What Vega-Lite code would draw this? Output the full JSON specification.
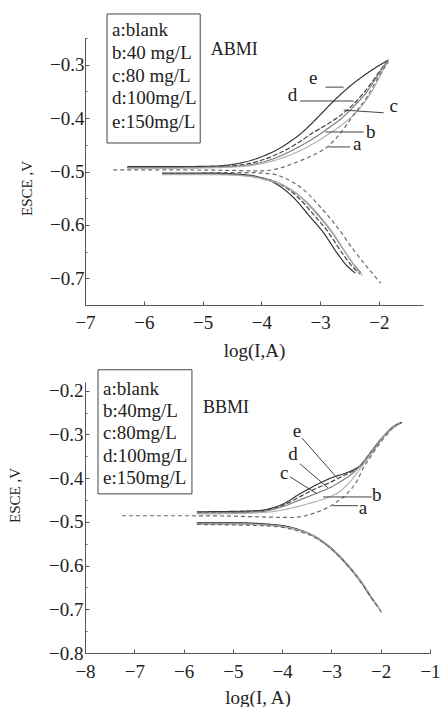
{
  "$schema": "https://vega.github.io/schema/vega-lite/v6.json",
  "padding": {"left": 7, "top": 13, "right": 0, "bottom": 0},
  "background": "white",
  "config": {
    "view": {"stroke": null},
    "font": "Liberation Serif",
    "axis": {
      "domainColor": "#555",
      "tickColor": "#555",
      "labelColor": "#222",
      "titleColor": "#222",
      "labelFont": "Liberation Serif",
      "titleFont": "Liberation Serif",
      "labelFontSize": 19,
      "titleFontSize": 19,
      "titleFontWeight": "normal",
      "labelFlush": false,
      "grid": false
    },
    "text": {"font": "Liberation Serif", "color": "#222"},
    "line": {"interpolate": "monotone"}
  },
  "vconcat": [
    {
      "width": 338,
      "height": 267,
      "encoding": {
        "x": {
          "field": "x", "type": "quantitative",
          "scale": {"domain": [-7, -1.25], "nice": false, "zero": false},
          "axis": {
            "title": "log(I,A)",
            "values": [-7, -6.5, -6, -5.5, -5, -4.5, -4, -3.5, -3, -2.5, -2, -1.5],
            "format": "d",
            "labelExpr": "datum.value % 1 === 0 ? datum.label : ''",
            "tickSize": {"condition": {"test": "datum.value % 1 !== 0", "value": -2}, "value": -4},
            "labelPadding": 12,
            "titlePadding": 9
          }
        },
        "y": {
          "field": "y", "type": "quantitative",
          "scale": {"domain": [-0.75, -0.25], "nice": false, "zero": false},
          "axis": {
            "title": "ESCE ,V",
            "titleFontSize": 15,
            "titleY": 150,
            "values": [-0.75, -0.7, -0.65, -0.6, -0.55, -0.5, -0.45, -0.4, -0.35, -0.3, -0.25],
            "format": ".1f",
            "labelExpr": "round(datum.value * 20) % 2 === 0 ? datum.label : ''",
            "tickSize": {"condition": {"test": "round(datum.value * 20) % 2 !== 0", "value": -2}, "value": -4},
            "labelPadding": 5,
            "titlePadding": 15
          }
        }
      },
      "layer": [
        {
          "data": {"values": [
            {"c": "e", "br": "an", "x": -6.28, "y": -0.491}, {"c": "e", "br": "an", "x": -5.6, "y": -0.491}, {"c": "e", "br": "an", "x": -4.82, "y": -0.490}, {"c": "e", "br": "an", "x": -4.4, "y": -0.485}, {"c": "e", "br": "an", "x": -4.14, "y": -0.478}, {"c": "e", "br": "an", "x": -3.9, "y": -0.468}, {"c": "e", "br": "an", "x": -3.68, "y": -0.456}, {"c": "e", "br": "an", "x": -3.5, "y": -0.443}, {"c": "e", "br": "an", "x": -3.34, "y": -0.43}, {"c": "e", "br": "an", "x": -3.17, "y": -0.413}, {"c": "e", "br": "an", "x": -3.0, "y": -0.394}, {"c": "e", "br": "an", "x": -2.77, "y": -0.368}, {"c": "e", "br": "an", "x": -2.49, "y": -0.340}, {"c": "e", "br": "an", "x": -2.2, "y": -0.316}, {"c": "e", "br": "an", "x": -1.84, "y": -0.291},
            {"c": "d", "br": "an", "x": -6.28, "y": -0.492}, {"c": "d", "br": "an", "x": -5.6, "y": -0.492}, {"c": "d", "br": "an", "x": -4.82, "y": -0.491}, {"c": "d", "br": "an", "x": -4.3, "y": -0.487}, {"c": "d", "br": "an", "x": -4.0, "y": -0.479}, {"c": "d", "br": "an", "x": -3.7, "y": -0.466}, {"c": "d", "br": "an", "x": -3.4, "y": -0.448}, {"c": "d", "br": "an", "x": -3.13, "y": -0.428}, {"c": "d", "br": "an", "x": -2.9, "y": -0.413}, {"c": "d", "br": "an", "x": -2.69, "y": -0.398}, {"c": "d", "br": "an", "x": -2.5, "y": -0.381}, {"c": "d", "br": "an", "x": -2.3, "y": -0.358}, {"c": "d", "br": "an", "x": -2.14, "y": -0.336}, {"c": "d", "br": "an", "x": -1.98, "y": -0.311}, {"c": "d", "br": "an", "x": -1.84, "y": -0.291},
            {"c": "c", "br": "an", "x": -6.28, "y": -0.493}, {"c": "c", "br": "an", "x": -5.6, "y": -0.493}, {"c": "c", "br": "an", "x": -4.82, "y": -0.492}, {"c": "c", "br": "an", "x": -4.3, "y": -0.489}, {"c": "c", "br": "an", "x": -4.0, "y": -0.483}, {"c": "c", "br": "an", "x": -3.7, "y": -0.472}, {"c": "c", "br": "an", "x": -3.4, "y": -0.456}, {"c": "c", "br": "an", "x": -3.1, "y": -0.437}, {"c": "c", "br": "an", "x": -2.85, "y": -0.418}, {"c": "c", "br": "an", "x": -2.6, "y": -0.397}, {"c": "c", "br": "an", "x": -2.4, "y": -0.375}, {"c": "c", "br": "an", "x": -2.2, "y": -0.35}, {"c": "c", "br": "an", "x": -2.05, "y": -0.325}, {"c": "c", "br": "an", "x": -1.92, "y": -0.303}, {"c": "c", "br": "an", "x": -1.84, "y": -0.292},
            {"c": "b", "br": "an", "x": -6.28, "y": -0.494}, {"c": "b", "br": "an", "x": -5.6, "y": -0.494}, {"c": "b", "br": "an", "x": -4.82, "y": -0.493}, {"c": "b", "br": "an", "x": -4.2, "y": -0.489}, {"c": "b", "br": "an", "x": -3.8, "y": -0.48}, {"c": "b", "br": "an", "x": -3.4, "y": -0.464}, {"c": "b", "br": "an", "x": -3.1, "y": -0.447}, {"c": "b", "br": "an", "x": -2.83, "y": -0.428}, {"c": "b", "br": "an", "x": -2.6, "y": -0.41}, {"c": "b", "br": "an", "x": -2.35, "y": -0.385}, {"c": "b", "br": "an", "x": -2.15, "y": -0.355}, {"c": "b", "br": "an", "x": -2.02, "y": -0.33}, {"c": "b", "br": "an", "x": -1.92, "y": -0.308}, {"c": "b", "br": "an", "x": -1.84, "y": -0.294},
            {"c": "a", "br": "an", "x": -6.52, "y": -0.497}, {"c": "a", "br": "an", "x": -5.5, "y": -0.497}, {"c": "a", "br": "an", "x": -4.5, "y": -0.498}, {"c": "a", "br": "an", "x": -4.0, "y": -0.499}, {"c": "a", "br": "an", "x": -3.7, "y": -0.494}, {"c": "a", "br": "an", "x": -3.46, "y": -0.485}, {"c": "a", "br": "an", "x": -3.17, "y": -0.472}, {"c": "a", "br": "an", "x": -2.88, "y": -0.454}, {"c": "a", "br": "an", "x": -2.66, "y": -0.429}, {"c": "a", "br": "an", "x": -2.43, "y": -0.394}, {"c": "a", "br": "an", "x": -2.2, "y": -0.36}, {"c": "a", "br": "an", "x": -1.97, "y": -0.316}, {"c": "a", "br": "an", "x": -1.84, "y": -0.295},
            {"c": "e", "br": "ca", "x": -5.69, "y": -0.503}, {"c": "e", "br": "ca", "x": -4.82, "y": -0.503}, {"c": "e", "br": "ca", "x": -4.4, "y": -0.505}, {"c": "e", "br": "ca", "x": -4.14, "y": -0.508}, {"c": "e", "br": "ca", "x": -3.8, "y": -0.52}, {"c": "e", "br": "ca", "x": -3.46, "y": -0.548}, {"c": "e", "br": "ca", "x": -3.17, "y": -0.585}, {"c": "e", "br": "ca", "x": -2.94, "y": -0.615}, {"c": "e", "br": "ca", "x": -2.71, "y": -0.653}, {"c": "e", "br": "ca", "x": -2.54, "y": -0.677}, {"c": "e", "br": "ca", "x": -2.4, "y": -0.69},
            {"c": "d", "br": "ca", "x": -5.69, "y": -0.504}, {"c": "d", "br": "ca", "x": -4.82, "y": -0.504}, {"c": "d", "br": "ca", "x": -4.4, "y": -0.506}, {"c": "d", "br": "ca", "x": -4.1, "y": -0.51}, {"c": "d", "br": "ca", "x": -3.75, "y": -0.52}, {"c": "d", "br": "ca", "x": -3.4, "y": -0.546}, {"c": "d", "br": "ca", "x": -3.1, "y": -0.582}, {"c": "d", "br": "ca", "x": -2.86, "y": -0.614}, {"c": "d", "br": "ca", "x": -2.63, "y": -0.652}, {"c": "d", "br": "ca", "x": -2.46, "y": -0.677}, {"c": "d", "br": "ca", "x": -2.32, "y": -0.692},
            {"c": "c", "br": "ca", "x": -5.69, "y": -0.505}, {"c": "c", "br": "ca", "x": -4.8, "y": -0.505}, {"c": "c", "br": "ca", "x": -4.35, "y": -0.507}, {"c": "c", "br": "ca", "x": -4.0, "y": -0.512}, {"c": "c", "br": "ca", "x": -3.7, "y": -0.522}, {"c": "c", "br": "ca", "x": -3.35, "y": -0.546}, {"c": "c", "br": "ca", "x": -3.05, "y": -0.58}, {"c": "c", "br": "ca", "x": -2.8, "y": -0.614}, {"c": "c", "br": "ca", "x": -2.58, "y": -0.65}, {"c": "c", "br": "ca", "x": -2.42, "y": -0.675}, {"c": "c", "br": "ca", "x": -2.3, "y": -0.69},
            {"c": "b", "br": "ca", "x": -5.69, "y": -0.506}, {"c": "b", "br": "ca", "x": -4.8, "y": -0.506}, {"c": "b", "br": "ca", "x": -4.3, "y": -0.508}, {"c": "b", "br": "ca", "x": -3.95, "y": -0.515}, {"c": "b", "br": "ca", "x": -3.6, "y": -0.527}, {"c": "b", "br": "ca", "x": -3.3, "y": -0.55}, {"c": "b", "br": "ca", "x": -3.0, "y": -0.584}, {"c": "b", "br": "ca", "x": -2.75, "y": -0.62}, {"c": "b", "br": "ca", "x": -2.55, "y": -0.655}, {"c": "b", "br": "ca", "x": -2.4, "y": -0.68}, {"c": "b", "br": "ca", "x": -2.28, "y": -0.695},
            {"c": "a", "br": "ca", "x": -5.0, "y": -0.502}, {"c": "a", "br": "ca", "x": -4.2, "y": -0.502}, {"c": "a", "br": "ca", "x": -3.8, "y": -0.505}, {"c": "a", "br": "ca", "x": -3.55, "y": -0.515}, {"c": "a", "br": "ca", "x": -3.34, "y": -0.529}, {"c": "a", "br": "ca", "x": -3.0, "y": -0.566}, {"c": "a", "br": "ca", "x": -2.71, "y": -0.604}, {"c": "a", "br": "ca", "x": -2.43, "y": -0.647}, {"c": "a", "br": "ca", "x": -2.2, "y": -0.679}, {"c": "a", "br": "ca", "x": -1.97, "y": -0.709}
          ]},
          "mark": {"type": "line", "strokeWidth": 1.2},
          "encoding": {
            "detail": {"field": "br", "type": "nominal"},
            "color": {"field": "c", "type": "nominal", "legend": null,
              "scale": {"domain": ["a", "b", "c", "d", "e"], "range": ["#6a6a6a", "#b0b0b0", "#7a7a7a", "#444444", "#333333"]}},
            "strokeDash": {"field": "c", "type": "nominal", "legend": null,
              "scale": {"domain": ["a", "b", "c", "d", "e"], "range": [[4, 3], [1, 0], [1, 0], [5, 2], [1, 0]]}}
          }
        },
        {
          "data": {"values": [
            {"x": -2.91, "y": -0.342, "x2": -2.60, "y2": -0.342},
            {"x": -3.34, "y": -0.368, "x2": -2.43, "y2": -0.368},
            {"x": -2.60, "y": -0.385, "x2": -1.92, "y2": -0.390},
            {"x": -2.91, "y": -0.426, "x2": -2.26, "y2": -0.426},
            {"x": -2.86, "y": -0.454, "x2": -2.49, "y2": -0.454}
          ]},
          "mark": {"type": "rule", "color": "#444", "strokeWidth": 1},
          "encoding": {
            "x2": {"field": "x2"},
            "y2": {"field": "y2"}
          }
        },
        {
          "data": {"values": [
            {"t": "e", "x": -3.116, "y": -0.325},
            {"t": "d", "x": -3.47, "y": -0.357},
            {"t": "c", "x": -1.75, "y": -0.377},
            {"t": "b", "x": -2.14, "y": -0.426},
            {"t": "a", "x": -2.37, "y": -0.449}
          ]},
          "mark": {"type": "text", "fontSize": 19, "align": "center", "baseline": "middle"},
          "encoding": {"text": {"field": "t"}}
        },
        {
          "data": {"values": [{"x": -6.625, "x2": -5.04, "y": -0.205, "y2": -0.4466}]},
          "mark": {"type": "rect", "fill": null, "stroke": "#444", "strokeWidth": 1},
          "encoding": {
            "x2": {"field": "x2"},
            "y2": {"field": "y2"}
          }
        },
        {
          "data": {"values": [
            {"t": "a:blank", "x": -6.54, "y": -0.235},
            {"t": "b:40 mg/L", "x": -6.54, "y": -0.278},
            {"t": "c:80 mg/L", "x": -6.54, "y": -0.321},
            {"t": "d:100mg/L", "x": -6.54, "y": -0.362},
            {"t": "e:150mg/L", "x": -6.54, "y": -0.407}
          ]},
          "mark": {"type": "text", "fontSize": 19, "align": "left", "baseline": "middle"},
          "encoding": {"text": {"field": "t"}}
        },
        {
          "data": {"values": [{"t": "ABMI", "x": -4.46, "y": -0.2725}]},
          "mark": {"type": "text", "fontSize": 18, "align": "center", "baseline": "middle"},
          "encoding": {"text": {"field": "t"}}
        }
      ]
    },
    {
      "width": 345,
      "height": 271,
      "encoding": {
        "x": {
          "field": "x", "type": "quantitative",
          "scale": {"domain": [-8, -1], "nice": false, "zero": false},
          "axis": {
            "title": "log(I, A)",
            "values": [-8, -7.5, -7, -6.5, -6, -5.5, -5, -4.5, -4, -3.5, -3, -2.5, -2, -1.5, -1],
            "format": "d",
            "labelExpr": "datum.value % 1 === 0 ? datum.label : ''",
            "tickSize": {"condition": {"test": "datum.value % 1 !== 0", "value": -2}, "value": -4},
            "labelPadding": 13,
            "titlePadding": 7
          }
        },
        "y": {
          "field": "y", "type": "quantitative",
          "scale": {"domain": [-0.8, -0.18], "nice": false, "zero": false},
          "axis": {
            "title": "ESCE ,V",
            "titleFontSize": 15,
            "titleY": 113,
            "values": [-0.8, -0.75, -0.7, -0.65, -0.6, -0.55, -0.5, -0.45, -0.4, -0.35, -0.3, -0.25, -0.2],
            "format": ".1f",
            "labelExpr": "round(datum.value * 20) % 2 === 0 ? datum.label : ''",
            "tickSize": {"condition": {"test": "round(datum.value * 20) % 2 !== 0", "value": -2}, "value": -4},
            "labelPadding": 6,
            "titlePadding": 26
          }
        }
      },
      "layer": [
        {
          "data": {"values": [
            {"c": "e", "br": "an", "x": -5.73, "y": -0.477}, {"c": "e", "br": "an", "x": -5.0, "y": -0.476}, {"c": "e", "br": "an", "x": -4.45, "y": -0.474}, {"c": "e", "br": "an", "x": -4.2, "y": -0.468}, {"c": "e", "br": "an", "x": -3.94, "y": -0.457}, {"c": "e", "br": "an", "x": -3.7, "y": -0.44}, {"c": "e", "br": "an", "x": -3.5, "y": -0.427}, {"c": "e", "br": "an", "x": -3.3, "y": -0.415}, {"c": "e", "br": "an", "x": -2.97, "y": -0.398}, {"c": "e", "br": "an", "x": -2.7, "y": -0.388}, {"c": "e", "br": "an", "x": -2.5, "y": -0.378}, {"c": "e", "br": "an", "x": -2.36, "y": -0.367}, {"c": "e", "br": "an", "x": -2.16, "y": -0.337}, {"c": "e", "br": "an", "x": -1.96, "y": -0.307}, {"c": "e", "br": "an", "x": -1.81, "y": -0.288}, {"c": "e", "br": "an", "x": -1.57, "y": -0.272},
            {"c": "d", "br": "an", "x": -5.73, "y": -0.478}, {"c": "d", "br": "an", "x": -5.0, "y": -0.477}, {"c": "d", "br": "an", "x": -4.45, "y": -0.475}, {"c": "d", "br": "an", "x": -4.2, "y": -0.47}, {"c": "d", "br": "an", "x": -3.94, "y": -0.46}, {"c": "d", "br": "an", "x": -3.6, "y": -0.44}, {"c": "d", "br": "an", "x": -3.3, "y": -0.423}, {"c": "d", "br": "an", "x": -3.07, "y": -0.412}, {"c": "d", "br": "an", "x": -2.8, "y": -0.397}, {"c": "d", "br": "an", "x": -2.6, "y": -0.386}, {"c": "d", "br": "an", "x": -2.46, "y": -0.376}, {"c": "d", "br": "an", "x": -2.3, "y": -0.355}, {"c": "d", "br": "an", "x": -2.1, "y": -0.325}, {"c": "d", "br": "an", "x": -1.9, "y": -0.3}, {"c": "d", "br": "an", "x": -1.75, "y": -0.285}, {"c": "d", "br": "an", "x": -1.58, "y": -0.273},
            {"c": "c", "br": "an", "x": -5.73, "y": -0.480}, {"c": "c", "br": "an", "x": -5.0, "y": -0.479}, {"c": "c", "br": "an", "x": -4.45, "y": -0.477}, {"c": "c", "br": "an", "x": -4.2, "y": -0.472}, {"c": "c", "br": "an", "x": -3.94, "y": -0.463}, {"c": "c", "br": "an", "x": -3.6, "y": -0.448}, {"c": "c", "br": "an", "x": -3.29, "y": -0.434}, {"c": "c", "br": "an", "x": -3.0, "y": -0.42}, {"c": "c", "br": "an", "x": -2.75, "y": -0.403}, {"c": "c", "br": "an", "x": -2.55, "y": -0.387}, {"c": "c", "br": "an", "x": -2.42, "y": -0.372}, {"c": "c", "br": "an", "x": -2.25, "y": -0.348}, {"c": "c", "br": "an", "x": -2.05, "y": -0.318}, {"c": "c", "br": "an", "x": -1.85, "y": -0.293}, {"c": "c", "br": "an", "x": -1.6, "y": -0.273},
            {"c": "b", "br": "an", "x": -5.73, "y": -0.482}, {"c": "b", "br": "an", "x": -5.0, "y": -0.481}, {"c": "b", "br": "an", "x": -4.45, "y": -0.479}, {"c": "b", "br": "an", "x": -4.1, "y": -0.475}, {"c": "b", "br": "an", "x": -3.8, "y": -0.468}, {"c": "b", "br": "an", "x": -3.4, "y": -0.456}, {"c": "b", "br": "an", "x": -3.09, "y": -0.445}, {"c": "b", "br": "an", "x": -2.8, "y": -0.428}, {"c": "b", "br": "an", "x": -2.6, "y": -0.405}, {"c": "b", "br": "an", "x": -2.45, "y": -0.383}, {"c": "b", "br": "an", "x": -2.3, "y": -0.36}, {"c": "b", "br": "an", "x": -2.1, "y": -0.33}, {"c": "b", "br": "an", "x": -1.9, "y": -0.3}, {"c": "b", "br": "an", "x": -1.62, "y": -0.274},
            {"c": "a", "br": "an", "x": -7.25, "y": -0.486}, {"c": "a", "br": "an", "x": -6.0, "y": -0.486}, {"c": "a", "br": "an", "x": -5.0, "y": -0.487}, {"c": "a", "br": "an", "x": -4.3, "y": -0.489}, {"c": "a", "br": "an", "x": -3.78, "y": -0.49}, {"c": "a", "br": "an", "x": -3.5, "y": -0.485}, {"c": "a", "br": "an", "x": -3.23, "y": -0.475}, {"c": "a", "br": "an", "x": -2.97, "y": -0.46}, {"c": "a", "br": "an", "x": -2.69, "y": -0.436}, {"c": "a", "br": "an", "x": -2.48, "y": -0.406}, {"c": "a", "br": "an", "x": -2.36, "y": -0.378}, {"c": "a", "br": "an", "x": -2.2, "y": -0.35}, {"c": "a", "br": "an", "x": -2.08, "y": -0.33}, {"c": "a", "br": "an", "x": -1.81, "y": -0.292}, {"c": "a", "br": "an", "x": -1.61, "y": -0.273},
            {"c": "e", "br": "ca", "x": -5.73, "y": -0.502}, {"c": "e", "br": "ca", "x": -5.0, "y": -0.502}, {"c": "e", "br": "ca", "x": -4.31, "y": -0.505}, {"c": "e", "br": "ca", "x": -3.78, "y": -0.514}, {"c": "e", "br": "ca", "x": -3.37, "y": -0.532}, {"c": "e", "br": "ca", "x": -3.03, "y": -0.559}, {"c": "e", "br": "ca", "x": -2.69, "y": -0.597}, {"c": "e", "br": "ca", "x": -2.42, "y": -0.634}, {"c": "e", "br": "ca", "x": -2.22, "y": -0.668}, {"c": "e", "br": "ca", "x": -2.1, "y": -0.688},
            {"c": "d", "br": "ca", "x": -5.73, "y": -0.503}, {"c": "d", "br": "ca", "x": -5.0, "y": -0.503}, {"c": "d", "br": "ca", "x": -4.3, "y": -0.506}, {"c": "d", "br": "ca", "x": -3.75, "y": -0.515}, {"c": "d", "br": "ca", "x": -3.35, "y": -0.533}, {"c": "d", "br": "ca", "x": -3.0, "y": -0.561}, {"c": "d", "br": "ca", "x": -2.67, "y": -0.6}, {"c": "d", "br": "ca", "x": -2.4, "y": -0.638}, {"c": "d", "br": "ca", "x": -2.2, "y": -0.672}, {"c": "d", "br": "ca", "x": -2.05, "y": -0.695},
            {"c": "c", "br": "ca", "x": -5.73, "y": -0.504}, {"c": "c", "br": "ca", "x": -5.0, "y": -0.504}, {"c": "c", "br": "ca", "x": -4.28, "y": -0.507}, {"c": "c", "br": "ca", "x": -3.72, "y": -0.517}, {"c": "c", "br": "ca", "x": -3.3, "y": -0.535}, {"c": "c", "br": "ca", "x": -2.97, "y": -0.563}, {"c": "c", "br": "ca", "x": -2.63, "y": -0.603}, {"c": "c", "br": "ca", "x": -2.37, "y": -0.641}, {"c": "c", "br": "ca", "x": -2.17, "y": -0.676}, {"c": "c", "br": "ca", "x": -2.02, "y": -0.7},
            {"c": "b", "br": "ca", "x": -5.73, "y": -0.505}, {"c": "b", "br": "ca", "x": -5.0, "y": -0.505}, {"c": "b", "br": "ca", "x": -4.25, "y": -0.508}, {"c": "b", "br": "ca", "x": -3.7, "y": -0.518}, {"c": "b", "br": "ca", "x": -3.28, "y": -0.537}, {"c": "b", "br": "ca", "x": -2.95, "y": -0.565}, {"c": "b", "br": "ca", "x": -2.62, "y": -0.605}, {"c": "b", "br": "ca", "x": -2.35, "y": -0.643}, {"c": "b", "br": "ca", "x": -2.15, "y": -0.679}, {"c": "b", "br": "ca", "x": -2.0, "y": -0.703},
            {"c": "a", "br": "ca", "x": -5.73, "y": -0.506}, {"c": "a", "br": "ca", "x": -5.0, "y": -0.507}, {"c": "a", "br": "ca", "x": -4.2, "y": -0.51}, {"c": "a", "br": "ca", "x": -3.7, "y": -0.52}, {"c": "a", "br": "ca", "x": -3.3, "y": -0.538}, {"c": "a", "br": "ca", "x": -2.97, "y": -0.565}, {"c": "a", "br": "ca", "x": -2.64, "y": -0.604}, {"c": "a", "br": "ca", "x": -2.36, "y": -0.645}, {"c": "a", "br": "ca", "x": -2.15, "y": -0.68}, {"c": "a", "br": "ca", "x": -1.98, "y": -0.708}
          ]},
          "mark": {"type": "line", "strokeWidth": 1.2},
          "encoding": {
            "detail": {"field": "br", "type": "nominal"},
            "color": {"field": "c", "type": "nominal", "legend": null,
              "scale": {"domain": ["a", "b", "c", "d", "e"], "range": ["#6a6a6a", "#b0b0b0", "#7a7a7a", "#444444", "#333333"]}},
            "strokeDash": {"field": "c", "type": "nominal", "legend": null,
              "scale": {"domain": ["a", "b", "c", "d", "e"], "range": [[4, 3], [1, 0], [1, 0], [5, 2], [1, 0]]}}
          }
        },
        {
          "data": {"values": [
            {"x": -3.60, "y": -0.308, "x2": -2.89, "y2": -0.399},
            {"x": -3.64, "y": -0.367, "x2": -3.07, "y2": -0.422},
            {"x": -3.84, "y": -0.397, "x2": -3.29, "y2": -0.436},
            {"x": -3.17, "y": -0.443, "x2": -2.18, "y2": -0.443},
            {"x": -2.97, "y": -0.463, "x2": -2.46, "y2": -0.463}
          ]},
          "mark": {"type": "rule", "color": "#444", "strokeWidth": 1},
          "encoding": {
            "x2": {"field": "x2"},
            "y2": {"field": "y2"}
          }
        },
        {
          "data": {"values": [
            {"t": "e", "x": -3.70, "y": -0.292},
            {"t": "d", "x": -3.78, "y": -0.344},
            {"t": "c", "x": -3.96, "y": -0.388},
            {"t": "b", "x": -2.08, "y": -0.438},
            {"t": "a", "x": -2.36, "y": -0.468}
          ]},
          "mark": {"type": "text", "fontSize": 19, "align": "center", "baseline": "middle"},
          "encoding": {"text": {"field": "t"}}
        },
        {
          "data": {"values": [{"x": -7.736, "x2": -5.83, "y": -0.152, "y2": -0.4359}]},
          "mark": {"type": "rect", "fill": null, "stroke": "#444", "strokeWidth": 1},
          "encoding": {
            "x2": {"field": "x2"},
            "y2": {"field": "y2"}
          }
        },
        {
          "data": {"values": [
            {"t": "a:blank", "x": -7.635, "y": -0.1954},
            {"t": "b:40mg/L", "x": -7.635, "y": -0.2458},
            {"t": "c:80mg/L", "x": -7.635, "y": -0.2962},
            {"t": "d:100mg/L", "x": -7.635, "y": -0.3488},
            {"t": "e:150mg/L", "x": -7.635, "y": -0.3992}
          ]},
          "mark": {"type": "text", "fontSize": 19, "align": "left", "baseline": "middle"},
          "encoding": {"text": {"field": "t"}}
        },
        {
          "data": {"values": [{"t": "BBMI", "x": -5.14, "y": -0.239}]},
          "mark": {"type": "text", "fontSize": 18, "align": "center", "baseline": "middle"},
          "encoding": {"text": {"field": "t"}}
        }
      ]
    }
  ],
  "spacing": 77,
  "bounds": "flush"
}
